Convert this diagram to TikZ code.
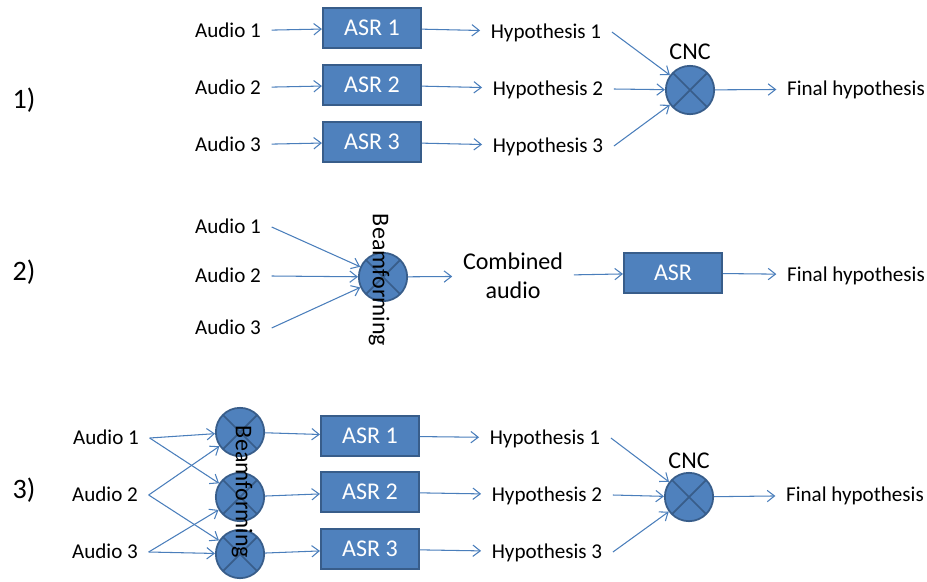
\documentclass[tikz,border=0pt]{standalone}
\usepackage{fontspec}
\setmainfont{Carlito}
\usetikzlibrary{arrows.meta}

\definecolor{asrfill}{HTML}{4F81BD}
\definecolor{asrline}{HTML}{385D8A}
\definecolor{wireblue}{HTML}{4A7EBB}

\tikzset{
  lbl/.style={inner xsep=9pt, inner ysep=1pt, text height=13pt, text depth=2pt,
    font=\fontsize{18}{22}\selectfont},
  big/.style={font=\fontsize{20.5}{24.6}\selectfont},
  asr/.style={draw=asrline, fill=asrfill, line width=1.5pt, text=white,
    minimum width=2.95cm, minimum height=1.2cm, inner sep=0pt, big},
  mixer/.style={circle, draw=asrline, fill=asrfill, line width=1.5pt,
    minimum size=1.45cm, inner sep=0pt,
    path picture={\draw[asrline, line width=1.5pt]
      (path picture bounding box.south west) -- (path picture bounding box.north east)
      (path picture bounding box.north west) -- (path picture bounding box.south east);}},
  beam/.style={rotate=-90, inner sep=0pt, big},
  secnum/.style={inner sep=0pt, font=\fontsize{24}{28}\selectfont},
  wire/.style={draw=wireblue, line width=0.9pt,
    -{Straight Barb[length=2.2mm, width=3.4mm]}}
}

\begin{document}
\begin{tikzpicture}[x=0.03cm, y=-0.03cm]
  \useasboundingbox (0,0) rectangle (927,581);

  % 1. separate recognisers, combined by CNC
  \node[secnum] (n1) at (24,100) {1)};
  \node[lbl] (a11) at (228,31) {Audio 1};
  \node[lbl] (a12) at (228,88) {Audio 2};
  \node[lbl] (a13) at (228,145) {Audio 3};
  \node[asr] (r11) at (372,28) {ASR 1};
  \node[asr] (r12) at (372,85) {ASR 2};
  \node[asr] (r13) at (372,142) {ASR 3};
  \node[lbl] (h11) at (546,32) {Hypothesis 1};
  \node[lbl] (h12) at (548,89) {Hypothesis 2};
  \node[lbl] (h13) at (548,146) {Hypothesis 3};
  \node[mixer] (cnc1) at (690,90) {};
  \node[lbl, big] (c1) at (690,53) {CNC};
  \node[lbl] (f1) at (856,89) {Final hypothesis};

  \foreach \i in {1,2,3} {
    \draw[wire] (a1\i) -- (r1\i);
    \draw[wire] (r1\i) -- (h1\i);
    \draw[wire] (h1\i.east) -- (cnc1);
  }
  \draw[wire] (cnc1) -- (f1);

  % 2. beamforming first, then one recogniser
  \node[secnum] (n2) at (24,272) {2)};
  \node[lbl] (a21) at (228,227) {Audio 1};
  \node[lbl] (a22) at (228,276) {Audio 2};
  \node[lbl] (a23) at (228,328) {Audio 3};
  \node[mixer] (bf2) at (383,277) {};
  \node[beam] (b2) at (379,280) {Beamforming};
  \node[lbl, text height=, text depth=, align=center, big] (comb) at (513,276) {Combined\\audio};
  \node[asr] (r2) at (673,273) {ASR};
  \node[lbl] (f2) at (856,275) {Final hypothesis};

  \foreach \i in {1,2,3}
    \draw[wire] (a2\i.east) -- (bf2);
  \draw[wire] (bf2) -- (comb);
  \draw[wire] (comb) -- (r2);
  \draw[wire] (r2) -- (f2);

  % 3. several beamformers, recognisers and CNC
  \node[secnum] (n3) at (24,490) {3)};
  \node[lbl] (a31) at (106,438) {Audio 1};
  \node[lbl] (a32) at (105,495) {Audio 2};
  \node[lbl] (a33) at (105,552) {Audio 3};
  \node[mixer] (bf31) at (240,432) {};
  \node[mixer] (bf32) at (240,497) {};
  \node[mixer] (bf33) at (240,554) {};
  \node[asr] (r31) at (370,436) {ASR 1};
  \node[asr] (r32) at (370,492) {ASR 2};
  \node[asr] (r33) at (370,549) {ASR 3};
  \node[lbl] (h31) at (545,438) {Hypothesis 1};
  \node[lbl] (h32) at (547,495) {Hypothesis 2};
  \node[lbl] (h33) at (547,552) {Hypothesis 3};
  \node[mixer] (cnc3) at (689,497) {};
  \node[lbl, big] (c3) at (689,462) {CNC};
  \node[lbl] (f3) at (855,495) {Final hypothesis};

  % each audio feeds two beamformers
  \draw[wire] (a31.east) -- (bf31);
  \draw[wire] (a31.east) -- (bf32);
  \draw[wire] (a32.east) -- (bf31);
  \draw[wire] (a32.east) -- (bf33);
  \draw[wire] (a33.east) -- (bf32);
  \draw[wire] (a33.east) -- (bf33);
  \foreach \i in {1,2,3} {
    \draw[wire] (bf3\i) -- (r3\i);
    \draw[wire] (r3\i) -- (h3\i);
    \draw[wire] (h3\i.east) -- (cnc3);
  }
  \draw[wire] (cnc3) -- (f3);
  % keep the rotated label on top of the circles
  \node[beam] (b3) at (242,492) {Beamforming};

\end{tikzpicture}
\end{document}
